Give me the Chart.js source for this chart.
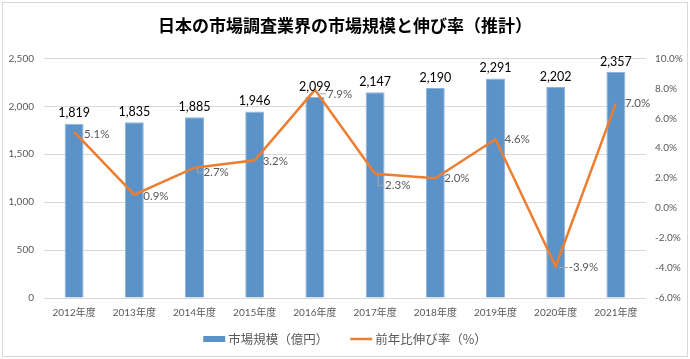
<!DOCTYPE html>
<html>
<head>
<meta charset="utf-8">
<script src="https://cdn.jsdelivr.net/npm/chart.js@4.4.1/dist/chart.umd.min.js"></script>
<style>
  html, body { margin: 0; padding: 0; background: #fff; }
  #wrap { width: 690px; height: 359px; }
</style>
</head>
<body>
<div id="wrap"><canvas id="marketChart" width="690" height="359"></canvas></div>
<script>
// data
var years = ["2012年度", "2013年度", "2014年度", "2015年度", "2016年度", "2017年度", "2018年度", "2019年度", "2020年度", "2021年度"];
var marketSize = [1819, 1835, 1885, 1946, 2099, 2147, 2190, 2291, 2202, 2357];
var growthRate = [5.1, 0.9, 2.7, 3.2, 7.9, 2.3, 2.0, 4.6, -3.9, 7.0];
var seriesNames = ["市場規模（億円）", "前年比伸び率（%）"];
var chartTitle = "日本の市場調査業界の市場規模と伸び率（推計）";

var numFont = "Lato, 'Noto Sans CJK JP', sans-serif";
var jpFont = "'Noto Sans CJK JP', sans-serif";
var barColor = "#5B93C8";
var lineColor = "#ED7D31";
var axisText = "#595959";

// where each rate label sits relative to its point, and whether a leader line is drawn
var rateLabelPos = [
  [10, 3, false], [9, 2, false], [9, 5, true], [8, 1, false], [12, 4, true],
  [10, 12, true], [9, 0, false], [9, 0, false], [13, 1, true], [9, 0, false]
];

var framePlugin = {
  id: "frame",
  beforeDraw: function(chart) {
    var ctx = chart.ctx;
    ctx.save();
    ctx.fillStyle = "#fff";
    ctx.fillRect(0, 0, chart.width, chart.height);
    ctx.strokeStyle = "#d9d9d9";
    ctx.lineWidth = 1;
    ctx.strokeRect(2.5, 2.5, chart.width - 5, chart.height - 5);
    ctx.restore();
  }
};

var labelPlugin = {
  id: "valueLabels",
  afterDatasetsDraw: function(chart) {
    var ctx = chart.ctx;
    ctx.save();
    // bar values
    var barMeta = chart.getDatasetMeta(0);
    ctx.font = "12.5px " + numFont;
    ctx.fillStyle = "#000";
    ctx.textAlign = "center";
    ctx.textBaseline = "bottom";
    barMeta.data.forEach(function(bar, i) {
      ctx.fillText(marketSize[i].toLocaleString("en-US"), bar.x, bar.y - 4);
    });
    // rate values
    var lineMeta = chart.getDatasetMeta(1);
    ctx.font = "11.5px " + numFont;
    ctx.textAlign = "left";
    ctx.textBaseline = "middle";
    lineMeta.data.forEach(function(pt, i) {
      var p = rateLabelPos[i];
      var tx = pt.x + p[0];
      var ty = pt.y + p[1];
      if (p[2]) {
        ctx.strokeStyle = "#a6a6a6";
        ctx.lineWidth = 1;
        ctx.beginPath();
        ctx.moveTo(pt.x + 3, pt.y + 1);
        ctx.lineTo(pt.x + 3, ty);
        ctx.lineTo(tx - 1, ty);
        ctx.stroke();
      }
      ctx.fillStyle = axisText;
      ctx.fillText(growthRate[i].toFixed(1) + "%", tx, ty);
    });
    ctx.restore();
  }
};

var legendPlugin = {
  id: "bottomLegend",
  afterDraw: function(chart) {
    var ctx = chart.ctx;
    ctx.save();
    ctx.font = "12.5px " + jpFont;
    var sw = 22, gap = 3, spacing = 22;
    var w0 = ctx.measureText(seriesNames[0]).width;
    var w1 = ctx.measureText(seriesNames[1]).width;
    var total = sw + gap + w0 + spacing + sw + gap + w1;
    var x = (chart.width - total) / 2;
    var y = 339;
    ctx.fillStyle = barColor;
    ctx.fillRect(x, y - 3, sw, 6);
    ctx.fillStyle = axisText;
    ctx.textBaseline = "middle";
    ctx.textAlign = "left";
    ctx.fillText(seriesNames[0], x + sw + gap, y);
    x += sw + gap + w0 + spacing;
    ctx.strokeStyle = lineColor;
    ctx.lineWidth = 2.5;
    ctx.beginPath();
    ctx.moveTo(x, y);
    ctx.lineTo(x + sw, y);
    ctx.stroke();
    ctx.fillText(seriesNames[1], x + sw + gap, y);
    ctx.restore();
  }
};

new Chart(document.getElementById("marketChart"), {
  type: "bar",
  data: {
    labels: years,
    datasets: [
      {
        label: seriesNames[0],
        data: marketSize,
        yAxisID: "y",
        backgroundColor: barColor,
        borderColor: "#8db4dc",
        borderWidth: 1,
        barPercentage: 0.63,
        categoryPercentage: 0.5,
        order: 2
      },
      {
        type: "line",
        label: seriesNames[1],
        data: growthRate,
        yAxisID: "y1",
        borderColor: lineColor,
        borderWidth: 2.5,
        pointRadius: 0,
        tension: 0,
        order: 1
      }
    ]
  },
  options: {
    responsive: false,
    animation: false,
    layout: { padding: { top: 0, bottom: 37, left: 0, right: 0 } },
    plugins: {
      legend: { display: false },
      tooltip: { enabled: false },
      title: {
        display: true,
        text: chartTitle,
        color: "#000",
        font: { family: jpFont, size: 17, weight: "bold" },
        padding: { top: 15, bottom: 23 }
      }
    },
    scales: {
      x: {
        grid: { display: false, drawTicks: false },
        border: { display: false },
        afterFit: function(scale) { scale.height = 24; },
        ticks: { color: axisText, font: { family: numFont, size: 10 }, padding: 9, maxRotation: 0 }
      },
      y: {
        position: "left",
        min: 0,
        max: 2500,
        border: { display: false },
        grid: { color: "#d9d9d9", drawTicks: false },
        afterFit: function(scale) { scale.width = 44; },
        ticks: {
          stepSize: 500,
          padding: 10,
          color: axisText,
          font: { family: numFont, size: 10 },
          callback: function(v) { return v.toLocaleString("en-US"); }
        }
      },
      y1: {
        position: "right",
        min: -6,
        max: 10,
        border: { display: false },
        grid: { drawOnChartArea: false, drawTicks: false },
        afterFit: function(scale) { scale.width = 44; },
        ticks: {
          stepSize: 2,
          padding: 9,
          color: axisText,
          font: { family: numFont, size: 10 },
          callback: function(v) { return v.toFixed(1) + "%"; }
        }
      }
    }
  },
  plugins: [framePlugin, labelPlugin, legendPlugin]
});
</script>
</body>
</html>
